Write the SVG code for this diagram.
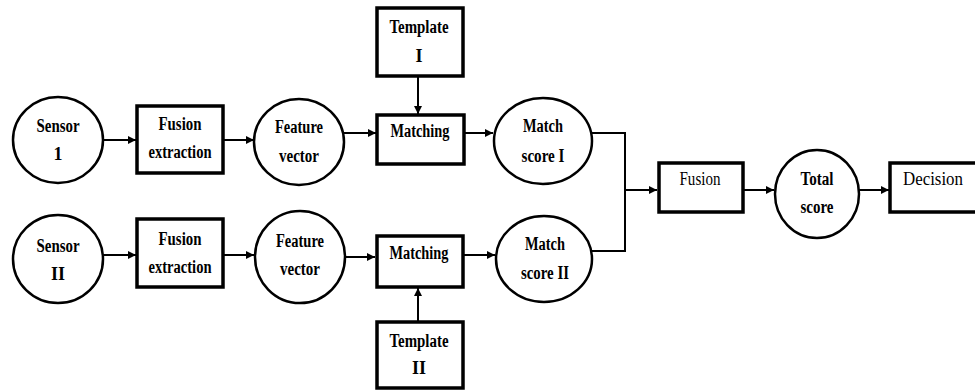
<svg xmlns="http://www.w3.org/2000/svg" width="975" height="390" viewBox="0 0 975 390">
<style>
.box{fill:#fff;stroke:#000;stroke-width:3.5}
.ell{fill:#fff;stroke:#000;stroke-width:2.5}
.t{font-family:"Liberation Serif","Times New Roman",serif;font-size:18px;font-weight:bold;text-anchor:middle;fill:#000}
.r{font-weight:normal}
.ln{fill:none;stroke:#000;stroke-width:2}
</style>
<defs>
<marker id="ah" viewBox="0 0 10 10" refX="10" refY="5" markerWidth="4" markerHeight="4" orient="auto" markerUnits="strokeWidth">
<path d="M0,0 L10,5 L0,10 z" fill="#000"/>
</marker>
</defs>
<rect width="975" height="390" fill="#fff"/>
<g id="connectors">
<line class="ln" x1="103" y1="140" x2="136" y2="140" marker-end="url(#ah)"/>
<line class="ln" x1="223" y1="140" x2="254" y2="140" marker-end="url(#ah)"/>
<line class="ln" x1="343" y1="133" x2="376" y2="133" marker-end="url(#ah)"/>
<line class="ln" x1="418" y1="77" x2="418" y2="114" marker-end="url(#ah)"/>
<line class="ln" x1="464" y1="133" x2="493" y2="133" marker-end="url(#ah)"/>
<polyline class="ln" points="592,133 625,133 625,251 592,251"/>
<line class="ln" x1="625" y1="190" x2="657" y2="190" marker-end="url(#ah)"/>
<line class="ln" x1="743" y1="190" x2="774" y2="190" marker-end="url(#ah)"/>
<line class="ln" x1="859" y1="190" x2="889" y2="190" marker-end="url(#ah)"/>
<line class="ln" x1="103" y1="255" x2="136" y2="255" marker-end="url(#ah)"/>
<line class="ln" x1="223" y1="255" x2="254" y2="255" marker-end="url(#ah)"/>
<line class="ln" x1="345" y1="257" x2="375" y2="257" marker-end="url(#ah)"/>
<line class="ln" x1="418" y1="322" x2="418" y2="288" marker-end="url(#ah)"/>
<line class="ln" x1="464" y1="255" x2="495" y2="255" marker-end="url(#ah)"/>
</g>
<g id="sensor1"><ellipse class="ell" cx="58" cy="140" rx="45" ry="43"/><text class="t" x="58" y="132" textLength="43" lengthAdjust="spacingAndGlyphs">Sensor</text><text class="t" x="58" y="160">1</text></g>
<g id="fusionext1"><rect class="box" x="137" y="106" width="86" height="67"/><text class="t" x="180" y="130" textLength="43" lengthAdjust="spacingAndGlyphs">Fusion</text><text class="t" x="180" y="158" textLength="63" lengthAdjust="spacingAndGlyphs">extraction</text></g>
<g id="feature1"><ellipse class="ell" cx="299" cy="142" rx="45" ry="43"/><text class="t" x="299" y="133" textLength="48" lengthAdjust="spacingAndGlyphs">Feature</text><text class="t" x="299" y="162" textLength="40" lengthAdjust="spacingAndGlyphs">vector</text></g>
<g id="template1"><rect class="box" x="377" y="8" width="86" height="68"/><text class="t" x="419" y="33" textLength="59" lengthAdjust="spacingAndGlyphs">Template</text><text class="t" x="419" y="62">I</text></g>
<g id="matching1"><rect class="box" x="377" y="115" width="87" height="49"/><text class="t" x="420" y="137" textLength="59" lengthAdjust="spacingAndGlyphs">Matching</text></g>
<g id="match1"><ellipse class="ell" cx="543" cy="141" rx="49" ry="43"/><text class="t" x="543" y="132" textLength="40" lengthAdjust="spacingAndGlyphs">Match</text><text class="t" x="543" y="162" textLength="43" lengthAdjust="spacingAndGlyphs">score I</text></g>
<g id="sensor2"><ellipse class="ell" cx="58" cy="259" rx="45" ry="44"/><text class="t" x="58" y="252" textLength="43" lengthAdjust="spacingAndGlyphs">Sensor</text><text class="t" x="58" y="280">II</text></g>
<g id="fusionext2"><rect class="box" x="137" y="219" width="86" height="68"/><text class="t" x="180" y="245" textLength="43" lengthAdjust="spacingAndGlyphs">Fusion</text><text class="t" x="180" y="273" textLength="63" lengthAdjust="spacingAndGlyphs">extraction</text></g>
<g id="feature2"><ellipse class="ell" cx="300" cy="257" rx="45" ry="46"/><text class="t" x="300" y="247" textLength="48" lengthAdjust="spacingAndGlyphs">Feature</text><text class="t" x="300" y="275" textLength="40" lengthAdjust="spacingAndGlyphs">vector</text></g>
<g id="matching2"><rect class="box" x="377" y="236" width="86" height="51"/><text class="t" x="419" y="259" textLength="59" lengthAdjust="spacingAndGlyphs">Matching</text></g>
<g id="template2"><rect class="box" x="377" y="322" width="86" height="66"/><text class="t" x="419" y="347" textLength="59" lengthAdjust="spacingAndGlyphs">Template</text><text class="t" x="419" y="374">II</text></g>
<g id="match2"><ellipse class="ell" cx="544" cy="259" rx="48" ry="43"/><text class="t" x="545" y="250" textLength="40" lengthAdjust="spacingAndGlyphs">Match</text><text class="t" x="545" y="279" textLength="48" lengthAdjust="spacingAndGlyphs">score II</text></g>
<g id="fusion"><rect class="box" x="659" y="163" width="84" height="49"/><text class="t r" x="700" y="185" textLength="41" lengthAdjust="spacingAndGlyphs">Fusion</text></g>
<g id="total"><ellipse class="ell" cx="817" cy="194" rx="42" ry="44"/><text class="t" x="817" y="185" textLength="33" lengthAdjust="spacingAndGlyphs">Total</text><text class="t" x="817" y="213" textLength="33" lengthAdjust="spacingAndGlyphs">score</text></g>
<g id="decision"><rect class="box" x="890" y="163" width="90" height="49"/><text class="t r" x="933" y="185" textLength="60" lengthAdjust="spacingAndGlyphs">Decision</text></g>
</svg>
